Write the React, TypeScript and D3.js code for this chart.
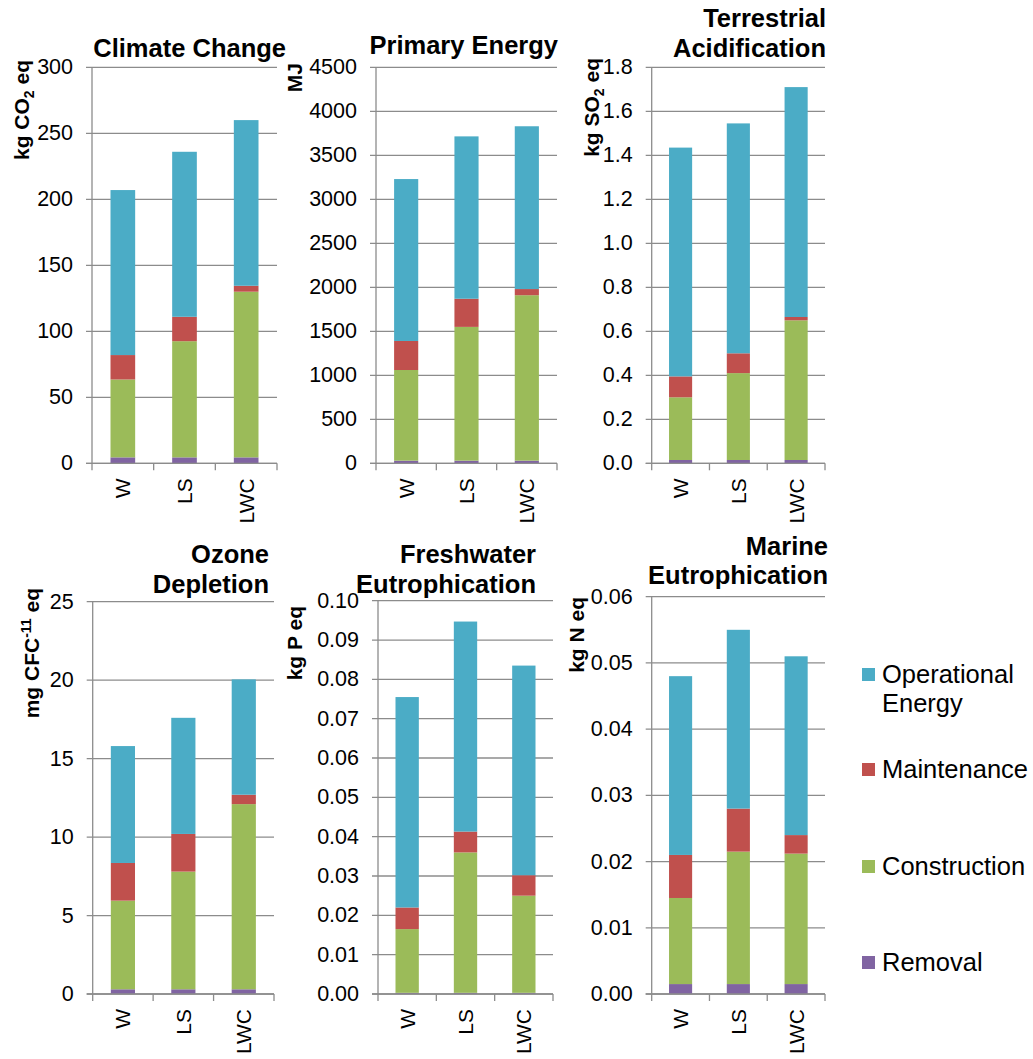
import React, { useEffect, useRef } from "react";
import * as d3 from "d3";

// categories + stack order (bottom to top)
const categories = ["W", "LS", "LWC"];
const seriesNames = ["Removal", "Construction", "Maintenance", "Operational Energy"];
const seriesColors = ["#8064A2", "#9BBB59", "#C0504D", "#4BACC6"];

// values per category: [removal, construction, maintenance, operational]
const climateChange = [
  [4.5, 59, 18.5, 125],
  [4.5, 88, 18.5, 125],
  [4.5, 125.5, 4.5, 125.5],
];
const primaryEnergy = [
  [30, 1030, 330, 1840],
  [30, 1520, 320, 1845],
  [30, 1880, 70, 1850],
];
const terrestrialAcid = [
  [0.015, 0.285, 0.095, 1.04],
  [0.015, 0.395, 0.09, 1.045],
  [0.015, 0.635, 0.015, 1.045],
];
const ozoneDepletion = [
  [0.3, 5.65, 2.4, 7.45],
  [0.3, 7.5, 2.4, 7.4],
  [0.3, 11.8, 0.6, 7.35],
];
const freshwaterEutro = [
  [0.0003, 0.0162, 0.0055, 0.0535],
  [0.0003, 0.0357, 0.0053, 0.0534],
  [0.0003, 0.0247, 0.0052, 0.0533],
];
const marineEutro = [
  [0.0015, 0.013, 0.0065, 0.027],
  [0.0015, 0.02, 0.0065, 0.027],
  [0.0015, 0.0197, 0.0028, 0.027],
];

const panels = [
  { title: ["Climate Change"], unit: [["kg CO", ""], ["2", "sub"], [" eq", ""]], max: 300, step: 50, fmt: "d", values: climateChange },
  { title: ["Primary Energy"], unit: [["MJ", ""]], max: 4500, step: 500, fmt: "d", values: primaryEnergy },
  { title: ["Terrestrial", "Acidification"], unit: [["kg SO", ""], ["2", "sub"], [" eq", ""]], max: 1.8, step: 0.2, fmt: ".1f", values: terrestrialAcid },
  { title: ["Ozone", "Depletion"], unit: [["mg CFC", ""], ["-11", "sup"], [" eq", ""]], max: 25, step: 5, fmt: "d", values: ozoneDepletion },
  { title: ["Freshwater", "Eutrophication"], unit: [["kg P eq", ""]], max: 0.1, step: 0.01, fmt: ".2f", values: freshwaterEutro },
  { title: ["Marine", "Eutrophication"], unit: [["kg N eq", ""]], max: 0.06, step: 0.01, fmt: ".2f", values: marineEutro },
];

// where each panel sits on the page
const layout = [
  { x0: 92, x1: 277, y0: 67.3, y1: 463.3, tx: 286, ty: [57], lx: 29, ly: 60 },
  { x0: 376, x1: 557, y0: 67.3, y1: 463.3, tx: 558, ty: [54], lx: 302, ly: 63 },
  { x0: 651.7, x1: 825, y0: 67.3, y1: 463.3, tx: 826, ty: [27, 57], lx: 599, ly: 58 },
  { x0: 92.7, x1: 274, y0: 601.7, y1: 994, tx: 269, ty: [563, 593], lx: 39, ly: 588 },
  { x0: 378, x1: 553, y0: 600.7, y1: 994, tx: 536, ty: [563, 593], lx: 302, ly: 606 },
  { x0: 651.7, x1: 825, y0: 596.7, y1: 994, tx: 828, ty: [555, 584], lx: 584, ly: 597 },
];

const FONT = "'Liberation Sans', Arial, sans-serif";
const GRID = "#8c8c8c";

export default function App() {
  const ref = useRef<SVGSVGElement>(null);

  useEffect(() => {
    const svg = d3.select(ref.current);
    svg.selectAll("*").remove();

    panels.forEach((p, pi) => {
      const L = layout[pi];
      const g = svg.append("g");

      const x = d3.scaleBand().domain(categories).range([L.x0, L.x1]).paddingInner(0.6).paddingOuter(0.3);
      const y = d3.scaleLinear().domain([0, p.max]).range([L.y1, L.y0]);
      const ticks = d3.range(0, p.max + p.step / 2, p.step);
      const fmt = d3.format(p.fmt);

      // gridlines + tick labels
      ticks.forEach((t) => {
        g.append("line")
          .attr("x1", L.x0 - 6).attr("x2", L.x1)
          .attr("y1", y(t)).attr("y2", y(t))
          .attr("stroke", GRID).attr("stroke-width", 1.3);
        g.append("text")
          .attr("x", L.x0 - 19).attr("y", y(t))
          .attr("text-anchor", "end").attr("dominant-baseline", "central")
          .attr("font-family", FONT).attr("font-size", 21.5).attr("fill", "#000")
          .text(fmt(t));
      });

      // stacked bars
      const rows = p.values.map((v, i) => {
        const r: any = { cat: categories[i] };
        seriesNames.forEach((s, j) => (r[s] = v[j]));
        return r;
      });
      const stacked = d3.stack().keys(seriesNames)(rows);
      stacked.forEach((layer, si) => {
        g.append("g").attr("fill", seriesColors[si])
          .selectAll("rect").data(layer).join("rect")
          .attr("x", (d: any) => x(d.data.cat)!)
          .attr("width", x.bandwidth())
          .attr("y", (d) => y(d[1]))
          .attr("height", (d) => y(d[0]) - y(d[1]));
      });

      // axes
      g.append("line")
        .attr("x1", L.x0).attr("x2", L.x0).attr("y1", L.y0).attr("y2", L.y1)
        .attr("stroke", GRID).attr("stroke-width", 1.3);
      g.append("line")
        .attr("x1", L.x0 - 6).attr("x2", L.x1).attr("y1", L.y1).attr("y2", L.y1)
        .attr("stroke", GRID).attr("stroke-width", 1.3);
      d3.range(categories.length + 1).forEach((i) => {
        const xx = L.x0 + i * x.step();
        g.append("line")
          .attr("x1", xx).attr("x2", xx).attr("y1", L.y1).attr("y2", L.y1 + 7)
          .attr("stroke", GRID).attr("stroke-width", 1.3);
      });
      categories.forEach((c) => {
        const cx = x(c)! + x.bandwidth() / 2;
        const cy = L.y1 + 15;
        g.append("text")
          .attr("transform", `translate(${cx},${cy}) rotate(-90)`)
          .attr("text-anchor", "end").attr("dominant-baseline", "central")
          .attr("font-family", FONT).attr("font-size", 21).attr("fill", "#000")
          .text(c);
      });

      // title
      p.title.forEach((line, li) => {
        g.append("text")
          .attr("x", L.tx).attr("y", L.ty[li])
          .attr("text-anchor", "end")
          .attr("font-family", FONT).attr("font-size", 25.5).attr("font-weight", "bold")
          .text(line);
      });

      // unit label
      const ut = g.append("text")
        .attr("transform", `translate(${L.lx},${L.ly}) rotate(-90)`)
        .attr("text-anchor", "end")
        .attr("font-family", FONT).attr("font-size", 21).attr("font-weight", "bold");
      p.unit.forEach(([t, kind]) => {
        const ts = ut.append("tspan").text(t);
        if (kind === "sub") ts.attr("font-size", 14).attr("dy", 5);
        if (kind === "sup") ts.attr("font-size", 14).attr("dy", -8);
        if (kind === "" && ut.selectAll("tspan").size() > 1) {
          const prev = p.unit[ut.selectAll("tspan").size() - 2][1];
          if (prev === "sub") ts.attr("dy", -5);
          if (prev === "sup") ts.attr("dy", 8);
        }
      });
    });

    // legend (top-to-bottom reverses stack order)
    const legendItems = [
      { name: ["Operational", "Energy"], color: seriesColors[3], y: 668 },
      { name: ["Maintenance"], color: seriesColors[2], y: 763 },
      { name: ["Construction"], color: seriesColors[1], y: 860 },
      { name: ["Removal"], color: seriesColors[0], y: 956 },
    ];
    const lg = svg.append("g");
    legendItems.forEach((it) => {
      lg.append("rect").attr("x", 862).attr("y", it.y).attr("width", 13).attr("height", 13).attr("fill", it.color);
      it.name.forEach((n, i) => {
        lg.append("text")
          .attr("x", 882).attr("y", it.y + 15 + i * 29)
          .attr("font-family", FONT).attr("font-size", 25.5).attr("fill", "#000")
          .text(n);
      });
    });
  }, []);

  return (
    <div style={{ position: "absolute", left: 0, top: 0 }}>
      <svg ref={ref} width={1033} height={1059} style={{ display: "block", background: "#fff" }} />
    </div>
  );
}
